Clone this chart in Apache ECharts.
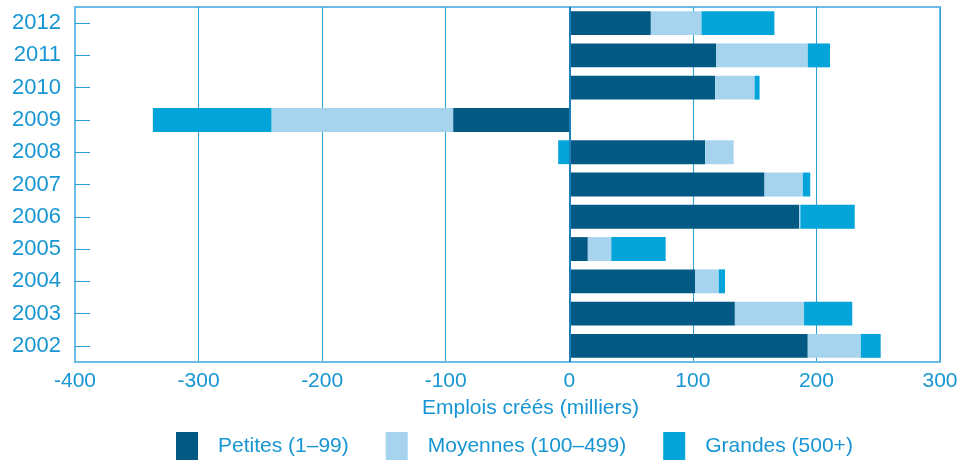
<!DOCTYPE html>
<html>
<head>
<meta charset="utf-8">
<script src="https://cdn.jsdelivr.net/npm/echarts@6/dist/echarts.min.js"></script>
<style>
  html, body { margin: 0; padding: 0; background: #fff; }
  #chart { width: 962px; height: 461px; }
</style>
</head>
<body>
<div id="chart"></div>
<script>
// années, de bas en haut
var years = ['2002', '2003', '2004', '2005', '2006', '2007', '2008', '2009', '2010', '2011', '2012'];
// emplois créés (milliers) par taille d'entreprise
var petites  = [193, 134, 102, 15, 186, 158, 110, -94, 118, 119, 66];
var moyennes = [43, 56, 19, 19, 1, 31, 23, -147, 32, 74, 41];
var grandes  = [16, 39, 5, 44, 44, 6, -9, -96, 4, 18, 59];
var xTicks = [-400, 300, 100]; // min, max, pas

var textBlue = '#1796d3';
var font = 'Liberation Sans, Arial, sans-serif';

var chart = echarts.init(document.getElementById('chart'));

var option = {
  animation: false,
  grid: {
    left: 75, right: 22, top: 7, bottom: 99,
    show: true,
    borderColor: '#6cbde6',
    borderWidth: 2
  },
  legend: {
    top: 427,
    left: 171,
    icon: 'rect',
    itemWidth: 22,
    itemHeight: 28,
    itemGap: 37,
    textStyle: { color: textBlue, fontSize: 21, fontFamily: font, padding: [0, 0, 0, 15] },
    data: ['Petites (1–99)', 'Moyennes (100–499)', 'Grandes (500+)']
  },
  xAxis: {
    type: 'value',
    min: xTicks[0],
    max: xTicks[1],
    interval: xTicks[2],
    name: 'Emplois créés (milliers)',
    nameLocation: 'middle',
    nameGap: 36,
    nameTextStyle: { color: textBlue, fontSize: 21, fontFamily: font, padding: [0, 0, 0, 46] },
    axisLine: { show: true, lineStyle: { color: '#6cbde6', width: 2 } },
    axisTick: { show: false },
    axisLabel: { color: textBlue, fontSize: 21, fontFamily: font, margin: 9 },
    splitLine: { show: true, lineStyle: { color: '#2a9fd8', width: 1 } }
  },
  yAxis: {
    type: 'category',
    data: years,
    axisLine: { show: true, onZero: false, lineStyle: { color: '#6cbde6', width: 2 } },
    axisTick: { show: true, inside: true, length: 15, alignWithLabel: true, lineStyle: { color: '#2a9fd8' } },
    axisLabel: { color: textBlue, fontSize: 22, fontFamily: font, margin: 14 },
    splitLine: { show: false }
  },
  series: [
    {
      name: 'Petites (1–99)',
      type: 'bar',
      stack: 'total',
      barCategoryGap: '26%',
      itemStyle: { color: '#025a84' },
      data: petites,
      markLine: {
        silent: true,
        symbol: 'none',
        label: { show: false },
        lineStyle: { color: '#1f7fb8', width: 2, type: 'solid' },
        data: [{ xAxis: 0 }]
      }
    },
    {
      name: 'Moyennes (100–499)',
      type: 'bar',
      stack: 'total',
      itemStyle: { color: '#a6d4ee' },
      data: moyennes
    },
    {
      name: 'Grandes (500+)',
      type: 'bar',
      stack: 'total',
      itemStyle: { color: '#02a4d9' },
      data: grandes
    }
  ]
};

chart.setOption(option);
</script>
</body>
</html>
